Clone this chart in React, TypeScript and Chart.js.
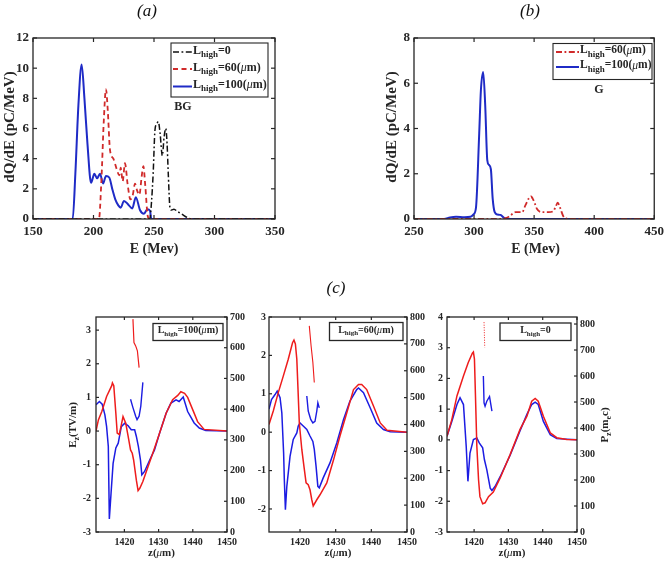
import React, { useEffect, useRef } from 'react';
import { Chart, registerables } from 'chart.js';
Chart.register(...registerables);

const FONT = "'Liberation Serif', 'Times New Roman', serif";
const INK = '#262626';

// ---------------- panel (a) data ----------------
const aLabels = ['0', '60', '100'];
const aE0 = [150, 246.5, 248, 249.3, 250.8, 252.2, 253.6, 255, 256.9, 258.3, 259.7, 260.8, 261.8, 263.2, 264.5, 266.5, 269.3, 273.4, 277.5, 281, 350];
const aQ0 = [0, 0, 1.2, 3.0, 5.9, 6.3, 6.45, 5.7, 4.2, 5.4, 6.0, 5.0, 3.0, 0.75, 0.6, 0.65, 0.5, 0.3, 0.1, 0, 0];
const aE60 = [150, 204.5, 206.5, 208.5, 210.3, 211.8, 213.6, 216.4, 219.2, 221.3, 222.5, 224.1, 226, 228.2, 230.5, 232.5, 234.3, 236, 237.9, 239.8, 241.2, 242.8, 244.8, 246.5, 350];
const aQ60 = [0, 0, 2.5, 6.5, 8.6, 7.2, 4.6, 4.0, 3.3, 2.9, 3.4, 2.5, 3.7, 2.3, 1.3, 1.6, 2.35, 1.9, 1.6, 2.8, 3.5, 2.2, 0.2, 0, 0];
const aE100 = [150, 182.8, 185, 187.5, 190.2, 192.5, 195, 198, 200.7, 203, 205.4, 207.9, 210.3, 213, 215.8, 218, 220.5, 222.5, 225.2, 228.8, 232, 235, 238.4, 241.7, 244.5, 246.7, 247.8, 350];
const aQ100 = [0, 0, 3.0, 7.5, 10.25, 8.0, 5.0, 2.4, 3.0, 2.7, 3.0, 2.35, 2.85, 2.75, 1.9, 1.3, 0.9, 0.75, 1.2, 0.95, 0.7, 1.45, 0.6, 0.35, 0.65, 0.55, 0, 0];

// ---------------- panel (b) data ----------------
const bLabels = ['60', '100'];
const bE60 = [250, 322, 329, 334.5, 340, 342.7, 346, 347.5, 348.8, 350.5, 352.3, 356.4, 362, 366, 368, 369.6, 371.6, 374.3, 377, 380, 450];
const bQ60 = [0, 0, 0.1, 0.3, 0.3, 0.6, 0.95, 1.0, 0.9, 0.7, 0.45, 0.3, 0.3, 0.35, 0.55, 0.72, 0.5, 0.12, 0.02, 0, 0];
const bE100 = [250, 275, 280, 285, 292, 297, 299.5, 301.6, 304.3, 305.7, 307.6, 309.3, 311, 312.3, 314, 315.5, 317.2, 319.4, 322, 325, 328, 450];
const bQ100 = [0, 0, 0.07, 0.1, 0.08, 0.1, 0.2, 0.5, 3.8, 5.7, 6.5, 5.0, 2.6, 2.4, 2.2, 0.9, 0.3, 0.2, 0.18, 0.05, 0, 0];

// ---------------- panel (c) data ----------------
const cLabels = ['100', '60', '0'];
// c1 : L_high = 100 um
const c1ZBlue = [1411.7, 1412.7, 1413.5, 1414.3, 1414.8, 1415.3, 1415.6, 1416.1, 1416.7, 1417.5, 1418.2, 1419.1, 1420.1, 1421.1, 1422, 1423, 1423.5, 1424.1, 1424.7, 1425.1, 1425.9, 1427.4, 1428.8, 1430.3, 1432.2, 1433.6, 1435.1, 1436, 1437.2, 1438.5, 1440.4, 1441.9, 1443.8, 1450];
const c1EBlue = [0.78, 0.88, 0.8, 0.48, 0.13, -0.46, -2.61, -1.85, -0.96, -0.5, -0.36, 0.13, 0.23, 0.16, 0.04, 0.04, -0.16, -0.46, -0.86, -1.3, -1.2, -0.86, -0.56, -0.06, 0.53, 0.83, 0.93, 0.88, 1.01, 0.58, 0.24, 0.09, 0.02, 0];
const c1ZRed = [1411.7, 1412.4, 1413.4, 1414.8, 1416.3, 1416.5, 1416.9, 1417.5, 1417.9, 1418.5, 1419, 1419.6, 1420.4, 1421.1, 1421.8, 1422.3, 1422.7, 1423.5, 1424, 1424.5, 1425.4, 1426.9, 1428.3, 1430.3, 1432.2, 1434.1, 1435.6, 1436.5, 1437.6, 1438.5, 1440, 1441.4, 1443.3, 1450];
const c1ERed = [0, 0.33, 0.58, 1.03, 1.35, 1.43, 1.35, 0.53, -0.06, -0.1, 0.13, 0.43, 0.23, -0.16, -0.56, -0.66, -0.86, -1.46, -1.77, -1.7, -1.5, -1.06, -0.66, -0.06, 0.53, 0.93, 1.06, 1.17, 1.12, 1.0, 0.63, 0.28, 0.05, 0];
const c1ZRedP = [1422.5, 1422.8, 1423.3, 1423.8, 1424.3];
const c1PRed = [693, 617, 606, 590, 535];
const c1ZBlueP = [1421.8, 1422.5, 1423.3, 1423.7, 1424.3, 1424.8, 1425.4];
const c1PBlue = [432, 405, 377, 366, 377, 410, 487];
// c2 : L_high = 60 um
const c2ZRed = [1411.3, 1412.5, 1413.9, 1415.3, 1416.7, 1417.9, 1418.3, 1418.7, 1419.1, 1419.4, 1419.8, 1420.5, 1421.1, 1421.7, 1422.3, 1422.8, 1423.3, 1423.7, 1424.7, 1425.6, 1427.5, 1429.4, 1431.2, 1433.1, 1435, 1436.4, 1437.3, 1438.7, 1440.6, 1442.5, 1444.4, 1450];
const c2ERed = [0.2, 0.55, 1.03, 1.46, 1.9, 2.33, 2.4, 2.3, 1.9, 1.2, 0.24, -0.45, -0.89, -1.32, -1.37, -1.5, -1.76, -1.92, -1.76, -1.63, -1.32, -0.72, -0.1, 0.5, 1.11, 1.24, 1.24, 1.11, 0.68, 0.24, 0.05, 0];
const c2ZBlue = [1411.3, 1412, 1413, 1413.6, 1414.4, 1414.9, 1415.4, 1415.6, 1415.9, 1416.3, 1417.2, 1418.1, 1419.1, 1419.5, 1420, 1420.9, 1421.9, 1422.8, 1423.6, 1424, 1424.5, 1425, 1425.4, 1426.5, 1428.4, 1430.3, 1432.2, 1434, 1435.9, 1436.4, 1437.8, 1439.7, 1441.5, 1443.4, 1445.3, 1450];
const c2EBlue = [0.6, 0.85, 0.98, 1.07, 0.9, 0.5, -0.54, -1.24, -2.02, -1.41, -0.63, -0.19, -0.02, 0.16, 0.24, 0.16, 0.07, -0.1, -0.24, -0.45, -0.89, -1.41, -1.45, -1.19, -0.8, -0.28, 0.33, 0.81, 1.11, 1.15, 1.03, 0.63, 0.24, 0.07, 0.01, 0];
const c2ZRedP = [1422.6, 1423.1, 1423.6, 1424];
const c2PRed = [767, 693, 631, 556];
const c2ZBlueP = [1421.9, 1422.3, 1423, 1423.6, 1424.2, 1424.7, 1425, 1425.4];
const c2PBlue = [506, 450, 419, 406, 412, 450, 481, 462];
// c3 : L_high = 0
const c3ZRed = [1412.1, 1413.5, 1415, 1416.9, 1418.3, 1419.5, 1419.8, 1420.1, 1420.4, 1420.8, 1421.3, 1421.7, 1422.5, 1423.2, 1424.2, 1425.6, 1427.6, 1430.5, 1433.4, 1435.4, 1436.8, 1437.8, 1438.7, 1440.2, 1442.2, 1444.1, 1447, 1450];
const c3ERed = [0.12, 0.66, 1.43, 2.08, 2.52, 2.82, 2.86, 2.63, 1.43, -0.21, -1.3, -1.85, -2.08, -2.05, -1.85, -1.7, -1.24, -0.48, 0.34, 0.77, 1.26, 1.35, 1.26, 0.77, 0.23, 0.07, 0.01, 0];
const c3ZBlue = [1412.1, 1413.5, 1415, 1415.9, 1416.9, 1417.7, 1418.2, 1418.8, 1419.8, 1420.8, 1421.5, 1422.5, 1423, 1423.7, 1424.7, 1425.2, 1426.1, 1427.6, 1430.5, 1433.4, 1435.4, 1436.8, 1437.8, 1438.7, 1440.2, 1442.2, 1444.1, 1450];
const c3EBlue = [0.12, 0.6, 1.15, 1.37, 1.15, -0.21, -1.35, -0.43, 0.01, 0.06, -0.1, -0.26, -0.64, -0.97, -1.57, -1.65, -1.52, -1.2, -0.5, 0.3, 0.83, 1.15, 1.23, 1.15, 0.6, 0.17, 0.04, 0];
const c3ZRedP = [1422.9, 1423.0, 1423.1];
const c3PRed = [807, 760, 710];
const c3ZBlueP = [1422.7, 1422.9, 1423.2, 1423.7, 1424.5, 1425.2];
const c3PBlue = [600, 497, 484, 503, 521, 465];

// ---------------- styles ----------------
const TOP_BLUE = '#1f2bc6';
const TOP_RED = '#d02a2a';
const TOP_BLACK = '#111111';
const BOT_RED = '#ee1c1c';
const BOT_BLUE = '#1c1ce2';
const DASH_DOT = [6, 2.5, 1.8, 2.5];
const DASHED = [5, 3.5];

type Seg = { t: string; s: number; it?: boolean; nb?: boolean; dy?: number };

function fontOf(g: Seg) {
  return `${g.it ? 'italic ' : ''}${g.nb ? '' : 'bold '}${g.s}px ${FONT}`;
}
function rich(ctx: CanvasRenderingContext2D, segs: Seg[], x: number, y: number, align: 'left' | 'center', color = INK) {
  let w = 0;
  for (const g of segs) { ctx.font = fontOf(g); w += ctx.measureText(g.t).width; }
  let cx = align === 'center' ? x - w / 2 : x;
  ctx.textBaseline = 'middle';
  ctx.textAlign = 'left';
  ctx.fillStyle = color;
  for (const g of segs) {
    ctx.font = fontOf(g);
    ctx.fillText(g.t, cx, y + (g.dy || 0));
    cx += ctx.measureText(g.t).width;
  }
}
function richRot(ctx: CanvasRenderingContext2D, segs: Seg[], x: number, y: number) {
  ctx.save();
  ctx.translate(x, y);
  ctx.rotate(-Math.PI / 2);
  rich(ctx, segs, 0, 0, 'center');
  ctx.restore();
}
function lhigh(v: string, s: number): Seg[] {
  const base: Seg[] = [{ t: 'L', s }, { t: 'high', s: Math.round(s * 0.74), dy: s * 0.33 }];
  if (v === '0') return [...base, { t: '=0', s }];
  return [...base, { t: `=${v}(`, s }, { t: 'μ', s, it: true, nb: true }, { t: 'm)', s }];
}
function box(ctx: CanvasRenderingContext2D, x0: number, y0: number, x1: number, y1: number, lw = 1.1) {
  ctx.fillStyle = '#ffffff';
  ctx.fillRect(x0, y0, x1 - x0, y1 - y0);
  ctx.strokeStyle = INK;
  ctx.lineWidth = lw;
  ctx.setLineDash([]);
  ctx.strokeRect(x0, y0, x1 - x0, y1 - y0);
}
function sample(ctx: CanvasRenderingContext2D, x0: number, x1: number, y: number, color: string, w: number, dash: number[]) {
  ctx.save();
  ctx.strokeStyle = color;
  ctx.lineWidth = w;
  ctx.setLineDash(dash);
  ctx.beginPath();
  ctx.moveTo(x0, y);
  ctx.lineTo(x1, y);
  ctx.stroke();
  ctx.restore();
}
function panelLabel(ctx: CanvasRenderingContext2D, t: string, x: number, y: number) {
  rich(ctx, [{ t, s: 17, it: true, nb: true }], x, y, 'center', '#111');
}
const zTitle: Seg[] = [{ t: 'z(', s: 11 }, { t: 'μ', s: 11, it: true, nb: true }, { t: 'm)', s: 11 }];

const pts = (xs: number[], ys: number[]) => xs.map((x, i) => ({ x, y: ys[i] }));
function ds(xs: number[], ys: number[], color: string, width: number, dash: number[], smooth: boolean, axis = 'y') {
  return {
    data: pts(xs, ys),
    borderColor: color,
    borderWidth: width,
    borderDash: dash,
    pointRadius: 0,
    fill: false,
    yAxisID: axis,
    cubicInterpolationMode: smooth ? 'monotone' : 'default',
    tension: smooth ? 0.4 : 0,
  };
}

interface Ax { min: number; max: number; step: number }
interface Spec {
  ox: number; oy: number; w: number; h: number;
  area: [number, number, number, number];
  x: Ax; y: Ax; y2?: Ax;
  tickFont: number; padX: number; padY: number; tl: number;
  datasets: any[];
  draw: (ctx: CanvasRenderingContext2D) => void;
}

const SPECS: Spec[] = [
  {
    ox: 0, oy: 0, w: 332, h: 265, area: [33, 38, 275, 219],
    x: { min: 150, max: 350, step: 50 }, y: { min: 0, max: 12, step: 2 },
    tickFont: 13, padX: 5, padY: 4, tl: 4,
    datasets: [
      ds(aE0, aQ0, TOP_BLACK, 1.5, DASH_DOT, true),
      ds(aE60, aQ60, TOP_RED, 1.8, DASHED, true),
      ds(aE100, aQ100, TOP_BLUE, 2, [], true),
    ],
    draw: (ctx) => {
      panelLabel(ctx, '(a)', 147, 12);
      richRot(ctx, [{ t: 'dQ/dE (pC/MeV)', s: 15 }], 10, 127);
      rich(ctx, [{ t: 'E (Mev)', s: 14 }], 154, 249, 'center');
      box(ctx, 171, 43, 268, 97);
      const rows = [52, 69, 86.5];
      const st: [string, number, number[]][] = [[TOP_BLACK, 1.5, DASH_DOT], [TOP_RED, 1.8, DASHED], [TOP_BLUE, 2, []]];
      rows.forEach((ry, i) => {
        sample(ctx, 173, 192, ry, st[i][0], st[i][1], st[i][2]);
        rich(ctx, lhigh(aLabels[i], 12), 193, ry - 1.5, 'left');
      });
      rich(ctx, [{ t: 'BG', s: 12 }], 183, 107, 'center');
    },
  },
  {
    ox: 335, oy: 0, w: 334, h: 265, area: [414, 38, 657, 219],
    x: { min: 250, max: 450, step: 50 }, y: { min: 0, max: 8, step: 2 },
    tickFont: 13, padX: 5, padY: 4, tl: 4,
    datasets: [
      ds(bE60, bQ60, TOP_RED, 1.8, DASH_DOT, true),
      ds(bE100, bQ100, TOP_BLUE, 2, [], true),
    ],
    draw: (ctx) => {
      panelLabel(ctx, '(b)', 530, 12);
      richRot(ctx, [{ t: 'dQ/dE (pC/MeV)', s: 15 }], 392, 127);
      rich(ctx, [{ t: 'E (Mev)', s: 14 }], 535.5, 249, 'center');
      box(ctx, 553, 43.5, 652, 79.5);
      const rows = [52, 67];
      const st: [string, number, number[]][] = [[TOP_RED, 1.8, DASH_DOT], [TOP_BLUE, 2, []]];
      rows.forEach((ry, i) => {
        sample(ctx, 556, 579, ry, st[i][0], st[i][1], st[i][2]);
        rich(ctx, lhigh(bLabels[i], 11.5), 580, ry - 1.5, 'left');
      });
      rich(ctx, [{ t: 'G', s: 12 }], 599, 89.5, 'center');
    },
  },
  {
    ox: 20, oy: 275, w: 240, h: 287, area: [96, 317, 227, 532],
    x: { min: 1411.7, max: 1450, step: 10 }, y: { min: -3, max: 3.39, step: 1 }, y2: { min: 0, max: 700, step: 100 },
    tickFont: 10, padX: 4, padY: 5, tl: 3,
    datasets: [
      ds(c1ZRed, c1ERed, BOT_RED, 1.5, [], false),
      ds(c1ZBlue, c1EBlue, BOT_BLUE, 1.5, [], false),
      ds(c1ZRedP, c1PRed, BOT_RED, 1.2, [], false, 'y2'),
      ds(c1ZBlueP, c1PBlue, BOT_BLUE, 1.4, [], false, 'y2'),
    ],
    draw: (ctx) => {
      richRot(ctx, [{ t: 'E', s: 11 }, { t: 'z', s: 8, dy: 3.5 }, { t: '(TV/m)', s: 11 }], 73, 425);
      rich(ctx, zTitle, 161.5, 553, 'center');
      box(ctx, 153, 323.5, 223, 340.5, 1.3);
      rich(ctx, lhigh(cLabels[0], 10), 188, 330.5, 'center');
    },
  },
  {
    ox: 240, oy: 275, w: 200, h: 287, area: [269, 317, 407, 532],
    x: { min: 1411.3, max: 1450, step: 10 }, y: { min: -2.6, max: 3, step: 1 }, y2: { min: 0, max: 800, step: 100 },
    tickFont: 10, padX: 4, padY: 3, tl: 3,
    datasets: [
      ds(c2ZRed, c2ERed, BOT_RED, 1.5, [], false),
      ds(c2ZBlue, c2EBlue, BOT_BLUE, 1.5, [], false),
      ds(c2ZRedP, c2PRed, BOT_RED, 1.1, [], false, 'y2'),
      ds(c2ZBlueP, c2PBlue, BOT_BLUE, 1.4, [], false, 'y2'),
    ],
    draw: (ctx) => {
      panelLabel(ctx, '(c)', 336, 289);
      rich(ctx, zTitle, 338, 553, 'center');
      box(ctx, 329.5, 322.5, 403, 340.5, 1.3);
      rich(ctx, lhigh(cLabels[1], 10), 366, 330, 'center');
    },
  },
  {
    ox: 415, oy: 275, w: 254, h: 287, area: [447, 317, 577, 532],
    x: { min: 1412.1, max: 1450, step: 10 }, y: { min: -3, max: 4, step: 1 }, y2: { min: 0, max: 827, step: 100 },
    tickFont: 10, padX: 4, padY: 4, tl: 3,
    datasets: [
      ds(c3ZRed, c3ERed, BOT_RED, 1.5, [], false),
      ds(c3ZBlue, c3EBlue, BOT_BLUE, 1.5, [], false),
      ds(c3ZRedP, c3PRed, BOT_RED, 1, [1, 1.5], false, 'y2'),
      ds(c3ZBlueP, c3PBlue, BOT_BLUE, 1.4, [], false, 'y2'),
    ],
    draw: (ctx) => {
      rich(ctx, zTitle, 512, 553, 'center');
      richRot(ctx, [{ t: 'P', s: 11 }, { t: 'z', s: 8, dy: 3.5 }, { t: '(m', s: 11 }, { t: 'e', s: 8, dy: 3.5 }, { t: 'c)', s: 11 }], 605, 425);
      box(ctx, 500, 323, 571, 340.5, 1.3);
      rich(ctx, lhigh(cLabels[2], 10), 535.5, 330.5, 'center');
    },
  },
];

function build(canvas: HTMLCanvasElement, sp: Spec) {
  const [l, t, r, b] = sp.area;
  const yl = l - sp.ox;
  const yr = sp.y2 ? sp.ox + sp.w - r : 0;
  const xh = sp.oy + sp.h - b;
  const font = { family: FONT, size: sp.tickFont, weight: 'bold' as const };
  const tk = (pad: number, step: number) => ({
    font, color: INK, padding: pad, stepSize: step, includeBounds: false,
    autoSkip: false, maxRotation: 0, minRotation: 0,
    callback: (v: any) => String(v),
  });
  const grid = { display: false, drawTicks: false, tickLength: 0 };
  const scales: any = {
    x: {
      type: 'linear', min: sp.x.min, max: sp.x.max, ticks: tk(sp.padX, sp.x.step),
      grid, border: { display: false },
      afterFit: (s: any) => { s.height = xh; },
    },
    y: {
      type: 'linear', position: 'left', min: sp.y.min, max: sp.y.max, ticks: tk(sp.padY, sp.y.step),
      grid, border: { display: false },
      afterFit: (s: any) => { s.width = yl; },
    },
  };
  if (sp.y2) {
    scales.y2 = {
      type: 'linear', position: 'right', min: sp.y2.min, max: sp.y2.max, ticks: tk(3, sp.y2.step),
      grid, border: { display: false },
      afterFit: (s: any) => { s.width = yr; },
    };
  }
  const decor = {
    id: 'decor',
    afterDraw(chart: any) {
      const ctx: CanvasRenderingContext2D = chart.ctx;
      const ca = chart.chartArea;
      ctx.save();
      ctx.strokeStyle = INK;
      ctx.lineWidth = 1.2;
      ctx.setLineDash([]);
      const tl = sp.tl;
      const line = (x0: number, y0: number, x1: number, y1: number) => {
        ctx.beginPath(); ctx.moveTo(x0, y0); ctx.lineTo(x1, y1); ctx.stroke();
      };
      const xs = chart.scales.x;
      for (const tkv of xs.ticks) {
        const px = xs.getPixelForValue(tkv.value);
        line(px, ca.bottom, px, ca.bottom - tl);
        line(px, ca.top, px, ca.top + tl);
      }
      const ys = chart.scales.y;
      for (const tkv of ys.ticks) {
        const py = ys.getPixelForValue(tkv.value);
        line(ca.left, py, ca.left + tl, py);
        if (!sp.y2) line(ca.right, py, ca.right - tl, py);
      }
      if (sp.y2) {
        const y2 = chart.scales.y2;
        for (const tkv of y2.ticks) {
          const py = y2.getPixelForValue(tkv.value);
          line(ca.right, py, ca.right - tl, py);
        }
      }
      ctx.lineWidth = 1.3;
      ctx.strokeRect(ca.left, ca.top, ca.right - ca.left, ca.bottom - ca.top);
      ctx.translate(-sp.ox, -sp.oy);
      sp.draw(ctx);
      ctx.restore();
    },
  };
  return new Chart(canvas, {
    type: 'line',
    data: { datasets: sp.datasets },
    options: {
      responsive: false,
      animation: false,
      events: [],
      layout: { padding: { left: 0, top: t - sp.oy, right: sp.y2 ? 0 : sp.ox + sp.w - r, bottom: 0 } },
      scales,
      plugins: { legend: { display: false }, tooltip: { enabled: false }, title: { display: false } },
    } as any,
    plugins: [decor],
  });
}

export default function App() {
  const refs = useRef<(HTMLCanvasElement | null)[]>([]);
  useEffect(() => {
    const charts = SPECS.map((sp, i) => build(refs.current[i] as HTMLCanvasElement, sp));
    return () => charts.forEach((c) => c.destroy());
  }, []);
  return (
    <div style={{ position: 'absolute', left: 0, top: 0, width: 669, height: 562, background: '#ffffff', overflow: 'hidden' }}>
      {SPECS.map((sp, i) => (
        <canvas
          key={i}
          ref={(el) => { refs.current[i] = el; }}
          width={sp.w}
          height={sp.h}
          style={{ position: 'absolute', left: sp.ox, top: sp.oy, width: sp.w, height: sp.h }}
        />
      ))}
    </div>
  );
}
